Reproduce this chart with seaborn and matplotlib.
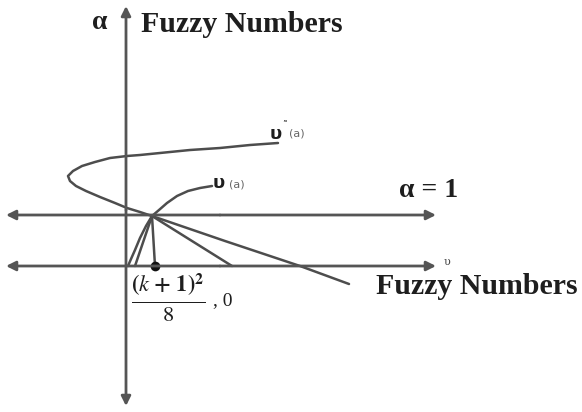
import numpy as np
import pandas as pd
import matplotlib
matplotlib.use("Agg")
import matplotlib.pyplot as plt
import seaborn as sns

sns.set_theme(style="white")
plt.rcParams["font.family"] = ["Liberation Serif", "DejaVu Serif"]
plt.rcParams["mathtext.fontset"] = "stix"

# Sketch coordinates (pixel-like units, y grows downward)
upper_x = [278, 250, 220, 190, 160, 140, 127, 110, 95, 82, 73, 68, 70, 76, 86, 100, 115,
           127, 140, 152, 225, 300, 349]
upper_y = [143, 145, 148, 150, 153, 155, 156, 158, 162, 166, 171, 176, 181, 186, 191, 197, 203,
           208, 212, 216, 241, 266, 284]

lower_x = [212, 200, 188, 177, 167, 159, 152, 146, 140, 135, 131, 128]
lower_y = [186, 188, 191, 196, 203, 210, 216, 226, 238, 250, 259, 266]

# Rays from the core point down to the support axis
core = (152, 216)
ray_ends_x = [135, 155, 232]
support_y = 266
alpha_one_y = 215
axis_x = 126
dot_x = 155

line_col = "#4d4d4d"
axis_col = "#555555"
text_col = "#1e1e1e"

fig = plt.figure(figsize=(5.82, 4.12), dpi=100)
ax = fig.add_axes([0, 0, 1, 1])
ax.set_xlim(0, 582)
ax.set_ylim(412, 0)
ax.axis("off")

# axes with arrowheads
arrow_kw = dict(arrowstyle="-|>", color=axis_col, lw=2.0, mutation_scale=14, shrinkA=0, shrinkB=0)
ax.annotate("", xy=(axis_x, 6), xytext=(axis_x, 210), arrowprops=arrow_kw)
ax.annotate("", xy=(axis_x, 406), xytext=(axis_x, 210), arrowprops=arrow_kw)
for yy in (alpha_one_y, support_y):
    ax.annotate("", xy=(436, yy), xytext=(220, yy), arrowprops=arrow_kw)
    ax.annotate("", xy=(6, yy), xytext=(220, yy), arrowprops=arrow_kw)

# membership curves
sns.lineplot(x=upper_x, y=upper_y, sort=False, estimator=None, color=line_col, lw=1.8, ax=ax)
sns.lineplot(x=lower_x, y=lower_y, sort=False, estimator=None, color=line_col, lw=1.8, ax=ax)
for ex in ray_ends_x:
    sns.lineplot(x=[core[0], ex], y=[core[1], support_y], sort=False, estimator=None,
                 color=line_col, lw=1.8, ax=ax)

# marked point on the support axis
ax.plot([dot_x], [support_y], marker="o", ms=7, color="#111111", markeredgewidth=0)

# labels
bold = dict(fontweight="bold", color=text_col)
ax.text(100, 22, "α", fontsize=20, ha="center", va="center", **bold)
ax.text(141, 24, "Fuzzy Numbers", fontsize=21.5, ha="left", va="center", **bold)
ax.text(376, 287, "Fuzzy Numbers", fontsize=21.5, ha="left", va="center", **bold)
ax.text(429, 190, "α = 1", fontsize=20, ha="center", va="center", **bold)

sans = ["DejaVu Sans"]
ax.text(270, 134, "υ", fontsize=13, ha="left", va="center", family=sans, **bold)
ax.text(282, 126, "˜", fontsize=7, ha="left", va="center", family=sans, color=text_col)
ax.text(289, 134, "(a)", fontsize=8, ha="left", va="center", family=sans, color="#666666")
ax.text(213, 183, "υ", fontsize=13, ha="left", va="center", family=sans, **bold)
ax.text(229, 184, "(a)", fontsize=8, ha="left", va="center", family=sans, color="#666666")
ax.text(444, 262, "υ", fontsize=8, ha="left", va="center", family=["DejaVu Serif"], color="#444444")

ax.text(131, 298,
        r"$\frac{\mathbf{(}k\ \mathbf{+}\ \mathbf{1)}^{\mathbf{2}}}{8}$",
        fontsize=23, ha="left", va="center", color=text_col)
ax.text(213, 301, ", 0", fontsize=14, ha="left", va="center", color=text_col)

fig.savefig("out.png", dpi=100, facecolor="white")
